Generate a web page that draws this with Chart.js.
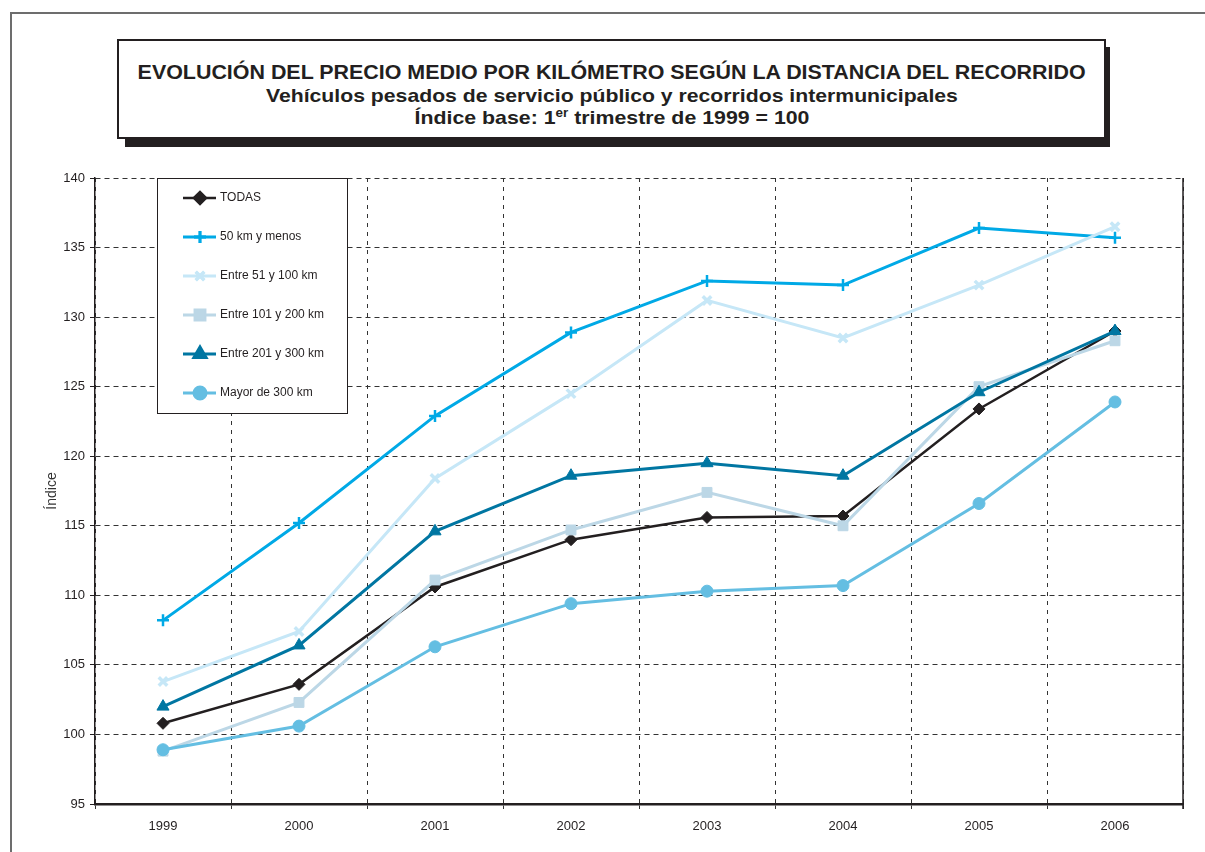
<!DOCTYPE html>
<html><head><meta charset="utf-8">
<script src="https://cdn.jsdelivr.net/npm/chart.js@4/dist/chart.umd.min.js"></script>
<style>
html,body{margin:0;padding:0;background:#fff;}
#wrap{position:relative;width:1205px;height:852px;overflow:hidden;}
#frame{position:absolute;left:10px;top:12px;width:1300px;height:900px;border-left:2px solid #6d6d6d;border-top:2px solid #6d6d6d;}
#shadow{position:absolute;left:125px;top:47px;width:985px;height:100px;background:#231f20;}
#tbox{position:absolute;left:117px;top:39px;width:985px;height:96px;border:2px solid #231f20;background:#fff;}
.t{position:absolute;left:0;width:100%;text-align:center;font-family:'Liberation Sans',Arial,sans-serif;font-weight:bold;color:#231f20;white-space:nowrap;line-height:1;}
.t span{display:inline-block;transform-origin:center;}
sup{font-size:12px;vertical-align:7px;line-height:0;}
canvas{position:absolute;left:0;top:0;}
</style>
</head>
<body>
<div id="wrap">
  <div id="frame"></div>
  <canvas id="c" width="1205" height="852"></canvas>
  <div id="shadow"></div>
  <div id="tbox">
    <div class="t" style="top:21px;font-size:20px;"><span data-w="948">EVOLUCIÓN DEL PRECIO MEDIO POR KILÓMETRO SEGÚN LA DISTANCIA DEL RECORRIDO</span></div>
    <div class="t" style="top:45px;font-size:19px;"><span data-w="692">Vehículos pesados de servicio público y recorridos intermunicipales</span></div>
    <div class="t" style="top:67px;font-size:19px;"><span data-w="395">Índice base: 1<sup>er</sup> trimestre de 1999 = 100</span></div>
  </div>
</div>
<script>
const years = ['1999','2000','2001','2002','2003','2004','2005','2006'];
const seriesNames = ['TODAS','50 km y menos','Entre 51 y 100 km','Entre 101 y 200 km','Entre 201 y 300 km','Mayor de 300 km'];
const todas     = [100.8, 103.6, 110.6, 114.0, 115.6, 115.7, 123.4, 129.0];
const km50      = [108.2, 115.2, 122.9, 128.9, 132.6, 132.3, 136.4, 135.7];
const km51_100  = [103.8, 107.4, 118.4, 124.5, 131.2, 128.5, 132.3, 136.5];
const km101_200 = [98.8, 102.3, 111.1, 114.7, 117.4, 115.0, 125.0, 128.3];
const km201_300 = [102.0, 106.4, 114.6, 118.6, 119.5, 118.6, 124.6, 129.0];
const km300     = [98.9, 100.6, 106.3, 109.4, 110.3, 110.7, 116.6, 123.9];
const yMin = 95, yMax = 140, yStep = 5;

// fit title widths
document.querySelectorAll('.t span').forEach(s => {
  const w = s.getBoundingClientRect().width;
  const target = +s.dataset.w;
  if (w > 0) s.style.transform = 'scaleX(' + (target / w) + ')';
});

const colors = ['#231f20', '#00a9e6', '#c6e7f7', '#bcd7e6', '#0076a2', '#64bee2'];
const styles = ['rectRot', 'cross', 'crossRot', 'rect', 'triangle', 'circle'];
const radii = [6, 6, 6, 7, 7, 6];
const pbw = [1, 2.5, 3.5, 1, 1, 1];
const allData = [todas, km50, km51_100, km101_200, km201_300, km300];

const datasets = allData.map((d, i) => ({
  label: seriesNames[i],
  data: d,
  borderColor: colors[i],
  backgroundColor: colors[i],
  pointBackgroundColor: colors[i],
  pointBorderColor: colors[i],
  borderWidth: i === 0 ? 2.5 : 3,
  pointStyle: styles[i],
  pointRadius: radii[i],
  pointBorderWidth: pbw[i],
  tension: 0,
  order: 5 - i
}));

const FONT = "'Liberation Sans', Arial, sans-serif";

const extras = {
  id: 'extras',
  afterDraw(chart) {
    const {ctx, chartArea: a} = chart;
    ctx.save();
    ctx.setLineDash([]);
    ctx.strokeStyle = '#231f20';
    ctx.lineWidth = 1.5;
    ctx.beginPath();
    ctx.moveTo(a.right, a.top); ctx.lineTo(a.right, a.bottom + 5);
    ctx.stroke();
    // legend box
    const lx = 157, ly = 178, lw = 190, lh = 235;
    ctx.fillStyle = '#fff';
    ctx.fillRect(lx, ly, lw, lh);
    ctx.lineWidth = 1;
    ctx.strokeStyle = '#231f20';
    ctx.strokeRect(lx + 0.5, ly + 0.5, lw, lh);
    ctx.font = '12px ' + FONT;
    ctx.textBaseline = 'middle';
    ctx.textAlign = 'left';
    chart.data.datasets.forEach((ds, i) => {
      const y = 198 + i * 39;
      ctx.strokeStyle = ds.borderColor;
      ctx.lineWidth = ds.borderWidth;
      ctx.beginPath(); ctx.moveTo(183, y); ctx.lineTo(216, y); ctx.stroke();
      Chart.helpers.drawPoint(ctx, {
        pointStyle: ds.pointStyle, radius: ds.pointRadius, borderWidth: ds.pointBorderWidth, rotation: 0
      }, 200, y);
      ctx.fillStyle = ds.pointBackgroundColor;
      ctx.strokeStyle = ds.pointBorderColor;
      ctx.lineWidth = ds.pointBorderWidth;
      ctx.fill(); ctx.stroke();
      ctx.fillStyle = '#231f20';
      ctx.fillText(ds.label, 220, y);
    });
    ctx.restore();
  }
};

new Chart(document.getElementById('c'), {
  type: 'line',
  data: { labels: years, datasets },
  options: {
    responsive: false,
    animation: false,
    devicePixelRatio: 1,
    layout: { padding: { left: 0, top: 178, right: 22, bottom: 0 } },
    plugins: { legend: { display: false }, tooltip: { enabled: false } },
    scales: {
      x: {
        offset: true,
        grid: { offset: true, color: '#333', lineWidth: 1, tickLength: 5, tickBorderDash: [], tickColor: '#333' },
        border: { color: '#231f20', width: 2.5, dash: [4, 5] },
        ticks: { color: '#231f20', padding: 10, font: { family: "'Liberation Sans Narrow', " + FONT, size: 13 } },
        afterFit(s) { s.height = 48; }
      },
      y: {
        min: yMin, max: yMax,
        ticks: { stepSize: yStep, color: '#231f20', padding: 5, font: { family: FONT, size: 13 } },
        grid: { color: '#333', lineWidth: 1, tickLength: 5, tickBorderDash: [], tickColor: '#231f20' },
        border: { color: '#231f20', width: 1.5, dash: [5, 4] },
        title: { display: true, text: 'Índice', color: '#333', padding: { top: 44, bottom: 0 }, font: { family: FONT, size: 14 } },
        afterFit(s) { s.width = 95; }
      }
    }
  },
  plugins: [extras]
});
</script>
</body></html>
